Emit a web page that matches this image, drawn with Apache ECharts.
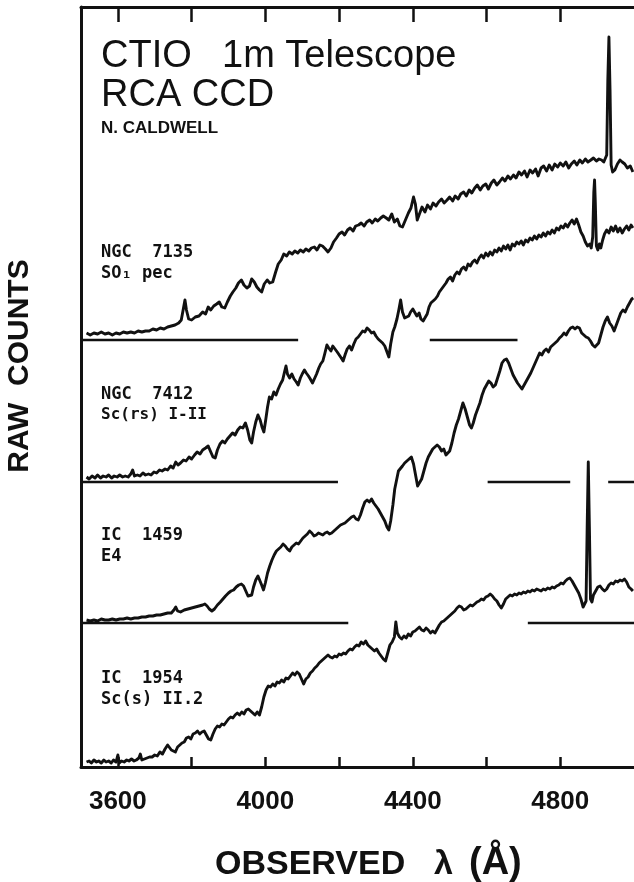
<!DOCTYPE html>
<html>
<head>
<meta charset="utf-8">
<script src="https://cdn.jsdelivr.net/npm/echarts@6/dist/echarts.min.js"></script>
<style>
html,body{margin:0;padding:0;background:#fff;}
#chart{width:634px;height:882px;}
</style>
</head>
<body>
<div id="chart"></div>
<script>
// Wavelength (Angstrom) tick values and labels
const tickValues = [3600, 3800, 4000, 4200, 4400, 4600, 4800];
const labelValues = [3600, 4000, 4400, 4800];

// Spectra: [observed wavelength, raw counts above that spectrum's own zero level]
const ngc7135 = [[3515,7],[3525,5],[3535,7],[3545,6],[3555,8],[3565,6],[3575,7],[3585,5],[3595,7],[3605,6],[3615,8],[3625,7],[3635,8],[3645,7],[3655,9],[3665,8],[3675,9],[3685,9],[3695,11],[3705,10],[3715,12],[3725,11],[3735,13],[3745,14],[3755,15],[3765,17],[3772,20],[3778,32],[3782,40],[3786,30],[3792,21],[3800,20],[3810,23],[3820,24],[3830,28],[3838,26],[3845,33],[3852,30],[3860,34],[3868,36],[3875,38],[3882,33],[3890,32],[3897,38],[3905,44],[3912,48],[3920,52],[3927,57],[3935,60],[3942,55],[3950,52],[3957,54],[3963,61],[3970,58],[3977,53],[3984,50],[3990,48],[3997,56],[4005,60],[4012,57],[4020,58],[4028,68],[4035,76],[4043,80],[4050,86],[4058,84],[4065,88],[4073,86],[4080,89],[4088,87],[4095,90],[4103,88],[4110,91],[4118,89],[4125,92],[4133,93],[4140,90],[4148,95],[4155,94],[4163,91],[4170,88],[4178,92],[4185,98],[4193,102],[4200,106],[4208,108],[4215,105],[4223,110],[4230,112],[4238,109],[4245,114],[4253,115],[4260,117],[4268,114],[4275,118],[4283,120],[4290,117],[4298,121],[4305,119],[4313,122],[4320,124],[4328,122],[4335,120],[4343,126],[4350,118],[4358,121],[4365,114],[4372,113],[4380,120],[4388,127],[4395,132],[4402,143],[4407,136],[4412,120],[4418,126],[4425,133],[4433,128],[4440,135],[4448,131],[4455,137],[4463,134],[4470,138],[4478,141],[4485,137],[4493,140],[4500,143],[4508,139],[4515,144],[4523,141],[4530,146],[4538,148],[4545,144],[4553,150],[4560,147],[4568,152],[4575,155],[4583,150],[4590,154],[4598,156],[4605,151],[4613,157],[4620,160],[4628,155],[4635,158],[4643,162],[4650,159],[4658,164],[4665,161],[4673,165],[4680,162],[4688,168],[4695,165],[4703,169],[4710,163],[4718,170],[4725,167],[4733,171],[4740,164],[4748,172],[4755,174],[4763,169],[4770,175],[4778,170],[4785,176],[4793,173],[4800,177],[4808,174],[4815,178],[4823,172],[4830,176],[4838,179],[4845,175],[4853,180],[4860,177],[4868,181],[4875,178],[4883,180],[4890,182],[4898,179],[4905,181],[4912,180],[4918,178],[4922,176],[4926,185],[4929,260],[4932,303],[4935,250],[4938,175],[4942,168],[4948,170],[4955,176],[4962,180],[4968,178],[4975,176],[4982,172],[4990,174],[4997,168]];

const ngc7412 = [[3515,5],[3522,3],[3530,6],[3538,4],[3545,7],[3553,4],[3560,6],[3568,5],[3575,7],[3583,4],[3590,6],[3598,5],[3605,7],[3613,5],[3620,6],[3628,5],[3635,8],[3640,12],[3645,6],[3653,7],[3660,6],[3668,9],[3675,7],[3683,8],[3690,7],[3698,10],[3705,9],[3713,12],[3720,11],[3728,13],[3735,12],[3743,16],[3750,14],[3757,20],[3763,17],[3770,19],[3778,22],[3785,21],[3793,25],[3800,23],[3808,27],[3815,30],[3823,28],[3830,32],[3838,34],[3845,36],[3852,30],[3858,25],[3864,24],[3870,32],[3877,38],[3884,41],[3890,39],[3897,43],[3904,46],[3911,49],[3918,47],[3925,52],[3932,55],[3939,54],[3946,59],[3952,52],[3958,42],[3963,39],[3968,50],[3974,60],[3980,67],[3986,62],[3991,55],[3996,50],[4001,62],[4006,75],[4011,85],[4017,83],[4023,90],[4029,87],[4035,93],[4041,98],[4047,102],[4052,110],[4056,116],[4060,108],[4066,104],[4072,108],[4078,103],[4084,100],[4089,97],[4095,104],[4100,108],[4106,112],[4111,109],[4117,106],[4122,103],[4128,99],[4133,101],[4139,108],[4145,114],[4150,118],[4156,121],[4161,128],[4167,137],[4172,134],[4178,131],[4183,136],[4189,133],[4195,130],[4200,128],[4206,124],[4211,121],[4217,128],[4222,133],[4228,136],[4234,132],[4240,138],[4246,143],[4252,145],[4258,148],[4264,151],[4270,150],[4276,154],[4282,152],[4288,149],[4294,150],[4300,146],[4306,143],[4312,141],[4318,139],[4324,136],[4330,130],[4335,125],[4340,138],[4346,150],[4351,155],[4357,163],[4362,172],[4367,182],[4372,170],[4378,164],[4383,162],[4389,166],[4394,170],[4400,173],[4405,172],[4411,166],[4417,169],[4422,163],[4428,161],[4433,159],[4439,168],[4444,175],[4449,179],[4455,181],[4461,183],[4467,186],[4472,190],[4478,193],[4484,196],[4490,199],[4496,203],[4502,205],[4508,201],[4514,207],[4520,210],[4526,208],[4532,213],[4538,215],[4544,212],[4550,218],[4556,216],[4562,220],[4568,222],[4574,219],[4580,224],[4586,227],[4592,224],[4598,229],[4604,226],[4610,230],[4616,227],[4622,232],[4628,230],[4634,234],[4640,231],[4646,236],[4652,233],[4658,237],[4664,232],[4670,238],[4676,236],[4682,240],[4688,238],[4694,241],[4700,237],[4706,242],[4712,240],[4718,244],[4724,242],[4730,246],[4736,243],[4742,247],[4748,245],[4754,249],[4760,246],[4766,250],[4772,248],[4778,252],[4784,249],[4790,254],[4796,252],[4802,256],[4808,254],[4814,258],[4820,255],[4826,259],[4832,262],[4838,258],[4844,263],[4850,257],[4856,250],[4862,246],[4868,240],[4874,236],[4880,238],[4884,234],[4888,245],[4891,290],[4893,302],[4895,280],[4898,236],[4902,232],[4906,238],[4910,234],[4915,242],[4920,248],[4926,252],[4932,249],[4938,255],[4944,251],[4950,256],[4956,250],[4962,254],[4968,249],[4974,253],[4980,256],[4986,252],[4992,257],[4997,254]];

const ic1459 = [[3515,3],[3525,2],[3535,3],[3545,2],[3555,4],[3565,3],[3575,3],[3585,4],[3595,3],[3605,4],[3615,4],[3625,5],[3635,4],[3645,5],[3655,5],[3665,6],[3675,6],[3685,7],[3695,7],[3705,8],[3715,8],[3725,9],[3735,10],[3745,10],[3752,13],[3757,16],[3762,12],[3770,11],[3780,13],[3790,14],[3800,15],[3810,16],[3820,17],[3830,18],[3836,19],[3842,17],[3848,14],[3855,12],[3862,14],[3870,18],[3878,21],[3885,24],[3892,27],[3900,30],[3907,32],[3914,33],[3921,36],[3928,38],[3935,39],[3941,37],[3947,32],[3953,27],[3958,25],[3963,28],[3968,36],[3974,43],[3980,47],[3985,45],[3990,38],[3995,33],[4000,40],[4006,50],[4012,57],[4018,63],[4024,68],[4030,72],[4036,74],[4042,76],[4048,79],[4054,77],[4060,74],[4066,72],[4072,76],[4078,78],[4084,80],[4090,79],[4096,82],[4102,85],[4108,87],[4114,89],[4120,92],[4126,90],[4132,87],[4138,88],[4144,90],[4150,89],[4156,88],[4162,90],[4168,91],[4174,89],[4180,90],[4186,92],[4192,94],[4198,96],[4204,98],[4210,99],[4216,100],[4222,102],[4228,104],[4234,106],[4240,107],[4246,104],[4252,103],[4258,108],[4264,115],[4270,121],[4276,123],[4282,121],[4288,124],[4294,120],[4300,117],[4306,114],[4312,110],[4318,106],[4324,102],[4330,96],[4335,93],[4340,102],[4346,118],[4351,134],[4356,143],[4361,152],[4366,154],[4372,157],[4378,160],[4384,162],[4390,164],[4396,166],[4402,159],[4408,147],[4413,137],[4418,135],[4424,144],[4430,152],[4436,160],[4442,166],[4448,170],[4454,174],[4460,176],[4466,178],[4472,176],[4478,172],[4484,174],[4490,168],[4495,166],[4500,172],[4506,180],[4512,190],[4518,198],[4524,204],[4530,212],[4536,220],[4542,214],[4548,206],[4554,198],[4559,195],[4564,200],[4570,208],[4576,214],[4582,220],[4588,228],[4594,234],[4600,238],[4606,242],[4612,240],[4618,236],[4624,238],[4630,245],[4636,252],[4642,260],[4648,263],[4654,264],[4660,260],[4666,254],[4672,248],[4678,244],[4684,240],[4690,237],[4696,234],[4702,238],[4708,242],[4714,246],[4720,250],[4726,255],[4732,260],[4738,265],[4744,270],[4750,268],[4756,272],[4762,274],[4768,271],[4774,276],[4780,278],[4786,280],[4792,282],[4798,285],[4804,287],[4810,290],[4816,288],[4822,292],[4828,295],[4834,296],[4840,294],[4846,296],[4852,295],[4858,290],[4864,288],[4870,286],[4876,285],[4882,282],[4888,278],[4894,276],[4898,274],[4904,280],[4910,288],[4916,296],[4922,302],[4928,306],[4934,300],[4940,297],[4946,292],[4952,298],[4958,304],[4964,310],[4970,313],[4976,311],[4982,316],[4988,320],[4994,324],[4998,325]];

const ic1954 = [[3515,5],[3522,6],[3528,4],[3535,7],[3542,5],[3548,6],[3555,4],[3562,7],[3568,5],[3575,6],[3582,4],[3588,7],[3595,5],[3600,12],[3604,4],[3610,6],[3617,5],[3624,7],[3630,6],[3637,8],[3644,6],[3650,7],[3657,9],[3661,13],[3665,7],[3672,8],[3679,9],[3686,10],[3693,10],[3700,12],[3707,11],[3714,15],[3721,13],[3728,18],[3735,22],[3740,24],[3745,17],[3750,19],[3756,15],[3762,20],[3768,22],[3774,24],[3780,25],[3786,29],[3792,30],[3798,28],[3804,33],[3810,34],[3816,36],[3822,33],[3828,35],[3834,36],[3840,32],[3846,28],[3852,27],[3858,33],[3864,38],[3870,41],[3876,40],[3882,43],[3888,42],[3894,45],[3900,48],[3906,50],[3912,49],[3918,52],[3924,54],[3930,52],[3936,55],[3942,53],[3948,57],[3954,58],[3960,56],[3966,54],[3972,52],[3978,55],[3984,52],[3990,60],[3996,70],[4002,77],[4008,81],[4014,80],[4020,83],[4026,81],[4032,85],[4038,84],[4044,87],[4050,85],[4056,89],[4062,88],[4068,91],[4074,94],[4080,92],[4086,95],[4092,93],[4098,88],[4104,83],[4110,88],[4116,90],[4122,94],[4128,96],[4134,99],[4140,101],[4146,104],[4152,106],[4158,108],[4164,110],[4170,112],[4176,110],[4182,109],[4188,111],[4194,110],[4200,113],[4206,112],[4212,114],[4218,113],[4224,116],[4230,118],[4236,117],[4242,120],[4248,122],[4254,121],[4260,125],[4266,123],[4272,126],[4278,122],[4284,120],[4290,118],[4296,116],[4302,118],[4308,114],[4314,111],[4320,108],[4326,106],[4332,114],[4338,122],[4344,125],[4350,130],[4354,145],[4358,134],[4364,130],[4370,128],[4376,131],[4382,129],[4388,133],[4394,131],[4400,135],[4406,136],[4412,138],[4418,140],[4424,137],[4430,136],[4436,139],[4442,137],[4448,134],[4454,136],[4460,134],[4466,138],[4472,142],[4478,145],[4484,146],[4490,148],[4496,150],[4502,152],[4508,154],[4514,156],[4520,159],[4526,161],[4532,160],[4538,157],[4544,158],[4550,160],[4556,162],[4562,161],[4568,163],[4574,165],[4580,166],[4586,168],[4592,167],[4598,170],[4604,171],[4610,173],[4616,171],[4622,168],[4628,166],[4634,162],[4640,159],[4646,163],[4652,168],[4658,170],[4664,172],[4670,171],[4676,173],[4682,172],[4688,174],[4694,173],[4700,175],[4706,174],[4712,176],[4718,175],[4724,177],[4730,176],[4736,178],[4742,177],[4748,176],[4754,178],[4760,177],[4766,179],[4772,178],[4778,180],[4784,179],[4790,181],[4796,182],[4802,184],[4808,183],[4814,186],[4820,188],[4826,189],[4832,186],[4838,182],[4844,178],[4850,174],[4856,168],[4862,160],[4866,158],[4870,166],[4873,240],[4876,305],[4879,240],[4882,168],[4886,165],[4890,172],[4896,176],[4902,180],[4908,181],[4914,178],[4920,176],[4926,178],[4932,182],[4938,184],[4944,183],[4950,186],[4956,185],[4962,187],[4968,186],[4974,188],[4980,185],[4986,180],[4992,178],[4997,176]];

// Wavelength ranges where each spectrum's zero line is drawn
const ngc7135Zero = [[3500, 4089], [4446, 4684]];
const ngc7412Zero = [[3500, 4197], [4603, 4827], [4930, 5000]];
const ic1459Zero = [[3500, 4225], [4712, 5000]];

// Vertical offsets of each spectrum in the stacked plot (count units)
const offsets = {ngc7135: 427, ngc7412: 285, ic1459: 144, ic1954: 0};

const INK = '#111';

function shifted(arr, off) { return arr.map(p => [p[0], p[1] + off]); }
function zeroLine(ranges, off) {
  const d = [];
  ranges.forEach((r, i) => {
    if (i > 0) d.push([r[0], null]);
    d.push([r[0], off]); d.push([r[1], off]);
  });
  return d;
}
function spec(name, arr, off) {
  return {type: 'line', name, data: shifted(arr, off), showSymbol: false, symbol: 'none',
    lineStyle: {color: INK, width: 2.9, join: 'round'}, z: 3, animation: false};
}
function zero(name, ranges, off) {
  return {type: 'line', name, data: zeroLine(ranges, off), showSymbol: false, symbol: 'none',
    connectNulls: false, lineStyle: {color: INK, width: 2.5}, z: 2, animation: false};
}

const chart = echarts.init(document.getElementById('chart'), null, {renderer: 'canvas'});
chart.setOption({
  animation: false,
  backgroundColor: '#fff',
  grid: {left: 81, top: 7, right: -2, bottom: 115},
  xAxis: [{
    type: 'value', position: 'bottom', min: 3500, max: 5000,
    axisLine: {show: true, lineStyle: {color: INK, width: 3}},
    axisTick: {show: true, inside: true, length: 10, customValues: tickValues,
      lineStyle: {color: INK, width: 2.5}},
    axisLabel: {show: true, customValues: labelValues, margin: 22, color: INK,
      fontSize: 26, fontWeight: 'bold', fontFamily: 'Liberation Sans',
      formatter: v => String(v)},
    splitLine: {show: false}
  }, {
    type: 'value', position: 'top', min: 3500, max: 5000,
    axisLine: {show: true, lineStyle: {color: INK, width: 3}},
    axisTick: {show: true, inside: true, length: 15, customValues: tickValues,
      lineStyle: {color: INK, width: 2.5}},
    axisLabel: {show: false}, splitLine: {show: false}
  }],
  yAxis: {
    type: 'value', min: 0, max: 760,
    axisLine: {show: true, lineStyle: {color: INK, width: 3}},
    axisTick: {show: false}, axisLabel: {show: false}, splitLine: {show: false}
  },
  series: [
    spec('NGC 7135', ngc7135, offsets.ngc7135),
    spec('NGC 7412', ngc7412, offsets.ngc7412),
    spec('IC 1459', ic1459, offsets.ic1459),
    spec('IC 1954', ic1954, offsets.ic1954),
    zero('NGC 7135 zero', ngc7135Zero, offsets.ngc7135),
    zero('NGC 7412 zero', ngc7412Zero, offsets.ngc7412),
    zero('IC 1459 zero', ic1459Zero, offsets.ic1459)
  ],
  graphic: [
    {type: 'text', left: 101, top: 38, style: {text: 'CTIO', fill: INK, font: '38px "Liberation Sans"'}},
    {type: 'text', left: 222, top: 38, style: {text: '1m Telescope', fill: INK, font: '38px "Liberation Sans"'}},
    {type: 'text', left: 101, top: 77, style: {text: 'RCA CCD', fill: INK, font: '38px "Liberation Sans"'}},
    {type: 'text', left: 101, top: 120, style: {text: 'N. CALDWELL', fill: INK, font: 'bold 17px "Liberation Sans"'}},
    {type: 'text', left: 101, top: 244, style: {text: 'NGC  7135', fill: INK, font: 'bold 17px "DejaVu Sans Mono"'}},
    {type: 'text', left: 101, top: 265, style: {text: 'SO\u2081 pec', fill: INK, font: 'bold 17px "DejaVu Sans Mono"'}},
    {type: 'text', left: 101, top: 386, style: {text: 'NGC  7412', fill: INK, font: 'bold 17px "DejaVu Sans Mono"'}},
    {type: 'text', left: 101, top: 407, style: {text: 'Sc(rs) I-II', fill: INK, font: 'bold 16px "DejaVu Sans Mono"'}},
    {type: 'text', left: 101, top: 527, style: {text: 'IC  1459', fill: INK, font: 'bold 17px "DejaVu Sans Mono"'}},
    {type: 'text', left: 101, top: 548, style: {text: 'E4', fill: INK, font: 'bold 17px "DejaVu Sans Mono"'}},
    {type: 'text', left: 101, top: 670, style: {text: 'IC  1954', fill: INK, font: 'bold 17px "DejaVu Sans Mono"'}},
    {type: 'text', left: 101, top: 691, style: {text: 'Sc(s) II.2', fill: INK, font: 'bold 17px "DejaVu Sans Mono"'}},
    {type: 'text', x: 20, y: 366, rotation: Math.PI / 2,
      style: {text: 'RAW  COUNTS', fill: INK, font: 'bold 30px "Liberation Sans"', align: 'center', verticalAlign: 'middle'}},
    {type: 'text', x: 215, y: 865,
      style: {text: 'OBSERVED', fill: INK, font: 'bold 34px "Liberation Sans"', align: 'left', verticalAlign: 'middle'}},
    {type: 'text', x: 434, y: 865,
      style: {text: '\u03bb', fill: INK, font: 'bold 34px "Liberation Sans"', align: 'left', verticalAlign: 'middle'}},
    {type: 'text', x: 469, y: 864,
      style: {text: '(\u00c5)', fill: INK, font: 'bold 38px "Liberation Sans"', align: 'left', verticalAlign: 'middle'}}
  ]
});
</script>
</body>
</html>
